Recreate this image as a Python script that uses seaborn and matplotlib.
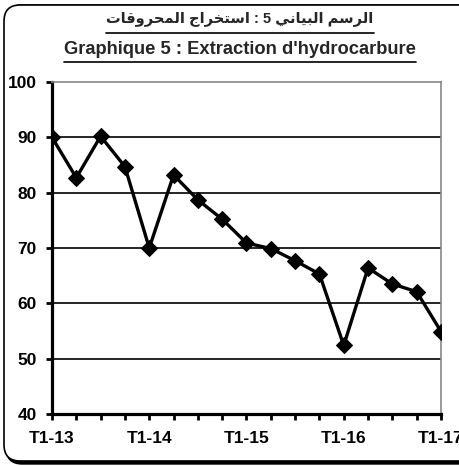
import matplotlib
matplotlib.use("Agg")
import matplotlib.pyplot as plt
import seaborn as sns
import pandas as pd
from matplotlib.patches import FancyBboxPatch
from matplotlib.lines import Line2D

# Quarterly data, T1-13 .. T1-17
quarters = ["T1-13", "T2-13", "T3-13", "T4-13",
            "T1-14", "T2-14", "T3-14", "T4-14",
            "T1-15", "T2-15", "T3-15", "T4-15",
            "T1-16", "T2-16", "T3-16", "T4-16",
            "T1-17"]
values = [90.0, 82.7, 90.2, 84.7, 70.0, 83.2, 78.7, 75.2, 70.9,
          69.9, 67.7, 65.3, 52.4, 66.4, 63.5, 62.1, 54.9]
y_ticks = [40, 50, 60, 70, 80, 90, 100]

title_ar = "الرسم البياني 5 : استخراج المحروقات"
title_fr = "Graphique 5 : Extraction d'hydrocarbure"

# matplotlib has no Arabic shaping: map letters to presentation forms
# (isolated, final, initial, medial) and lay them out right to left
FORMS = {
    "ا": ("\uFE8D", "\uFE8E", "\uFE8D", "\uFE8E"),
    "ر": ("\uFEAD", "\uFEAE", "\uFEAD", "\uFEAE"),
    "و": ("\uFEED", "\uFEEE", "\uFEED", "\uFEEE"),
    "ب": ("\uFE8F", "\uFE90", "\uFE91", "\uFE92"),
    "ت": ("\uFE95", "\uFE96", "\uFE97", "\uFE98"),
    "ج": ("\uFE9D", "\uFE9E", "\uFE9F", "\uFEA0"),
    "ح": ("\uFEA1", "\uFEA2", "\uFEA3", "\uFEA4"),
    "خ": ("\uFEA5", "\uFEA6", "\uFEA7", "\uFEA8"),
    "س": ("\uFEB1", "\uFEB2", "\uFEB3", "\uFEB4"),
    "ق": ("\uFED5", "\uFED6", "\uFED7", "\uFED8"),
    "ل": ("\uFEDD", "\uFEDE", "\uFEDF", "\uFEE0"),
    "م": ("\uFEE1", "\uFEE2", "\uFEE3", "\uFEE4"),
    "ن": ("\uFEE5", "\uFEE6", "\uFEE7", "\uFEE8"),
    "ي": ("\uFEF1", "\uFEF2", "\uFEF3", "\uFEF4"),
}
DUAL = set("بتجحخسقلمني")


def shape(text):
    out = []
    for i, ch in enumerate(text):
        if ch not in FORMS:
            out.append(ch)
            continue
        prev = text[i - 1] if i > 0 else ""
        nxt = text[i + 1] if i + 1 < len(text) else ""
        jp = prev in DUAL
        jn = ch in DUAL and nxt in FORMS
        iso, fin, ini, med = FORMS[ch]
        out.append(med if (jp and jn) else fin if jp else ini if jn else iso)
    return "".join(reversed(out))


df = pd.DataFrame({"pos": range(len(quarters)), "quarter": quarters, "value": values})

sns.set_style("white")
plt.rcParams["font.family"] = ["Liberation Sans", "DejaVu Sans"]
plt.rcParams["font.weight"] = "bold"

fig = plt.figure(figsize=(4.6, 4.66), dpi=100)
ax = fig.add_axes([52 / 460, 1 - 414 / 466, (441 - 52) / 460, (414 - 82) / 466])

sns.lineplot(data=df, x="pos", y="value", ax=ax, color="black", linewidth=2.4,
             marker="D", markersize=8, markeredgecolor="black", zorder=3)

ax.set_xlim(0, len(quarters) - 1)
ax.set_ylim(40, 100)
ax.set_yticks(y_ticks)
ax.set_yticklabels([str(t) for t in y_ticks], fontsize=12.5, fontweight="bold")
ax.set_xticks(df["pos"])
ax.set_xticklabels([q if q.startswith("T1") else "" for q in quarters],
                   fontsize=12.5, fontweight="bold")
ax.set_xlabel("")
ax.set_ylabel("")

for t in y_ticks[1:-1]:
    ax.axhline(t, color="black", linewidth=1.2, zorder=1)

ax.tick_params(axis="y", direction="out", length=4, width=2, pad=7, left=True, colors="black")
ax.tick_params(axis="x", direction="out", length=4, width=2, pad=8, bottom=True, colors="black")
for side in ["left", "bottom"]:
    ax.spines[side].set_color("black")
    ax.spines[side].set_linewidth(2.3)
for side in ["top", "right"]:
    ax.spines[side].set_color("#888888")
    ax.spines[side].set_linewidth(1.2)
    ax.spines[side].set_visible(True)

# chart frame with rounded corners and a little shadow at the bottom
shadow = FancyBboxPatch((6 / 460, 1 - 464 / 466), 480 / 460, 459 / 466,
                        boxstyle="round,pad=0,rounding_size=0.035",
                        transform=fig.transFigure, facecolor="black",
                        edgecolor="black", zorder=-2)
frame = FancyBboxPatch((4 / 460, 1 - 461 / 466), 480 / 460, 456 / 466,
                       boxstyle="round,pad=0,rounding_size=0.035",
                       transform=fig.transFigure, facecolor="white",
                       edgecolor="black", linewidth=1.2, zorder=-1)
fig.add_artist(shadow)
fig.add_artist(frame)

t1 = fig.text(240 / 460, 1 - 19 / 466, shape(title_ar), ha="center", va="center",
              fontsize=10.5, fontweight="bold")
t2 = fig.text(240 / 460, 1 - 50 / 466, title_fr, ha="center", va="center",
              fontsize=13.2, fontweight="bold")

# underline both title lines
fig.canvas.draw()
r = fig.canvas.get_renderer()
for t, yline in [(t1, 33), (t2, 62)]:
    bb = t.get_window_extent(r)
    y = 1 - yline / 466
    fig.add_artist(Line2D([bb.x0 / 460, bb.x1 / 460], [y, y], color="black",
                          linewidth=1.2, transform=fig.transFigure))

fig.savefig("out.png", dpi=100)
